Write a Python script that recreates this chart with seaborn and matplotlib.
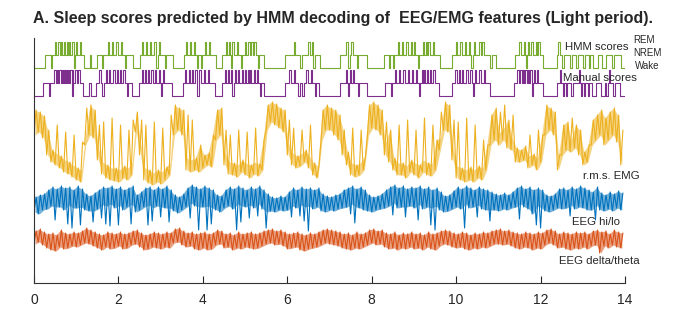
import numpy as np
import pandas as pd
import seaborn as sns
import matplotlib
matplotlib.use("Agg")
import matplotlib.pyplot as plt

# ---------------- data ----------------
# Hypnogram states: 0 = Wake, 1 = NREM, 2 = REM ; times in hours
hmm_base_t = [0.00, 0.26, 1.18, 1.32, 1.36, 1.50, 1.62, 1.64, 2.35, 2.50, 3.10, 3.13, 3.30, 3.55,
              3.95, 3.98, 4.30, 4.45, 4.90, 4.93, 5.45, 5.95, 6.30, 6.35, 6.78, 7.25, 7.65, 7.67,
              7.90, 8.30, 8.40, 8.43, 9.62, 9.90, 10.80, 10.85, 10.95, 11.40, 12.05, 12.40, 12.50,
              12.55, 12.70, 12.75, 13.00, 13.05, 13.25, 13.35, 13.45, 13.55, 13.70, 13.75, 13.90]
hmm_base_s = [0, 1] * 26 + [0]
hmm_rem_t = [0.50, 0.58, 0.64, 0.71, 0.77, 0.83, 0.91, 1.00, 1.08, 1.75, 1.85, 1.95, 2.05,
             2.55, 2.65, 2.75, 2.85, 2.96, 3.60, 3.70, 3.78, 4.05, 4.15, 4.55, 4.62, 4.70, 4.80,
             5.00, 5.08, 5.15, 5.22, 6.15, 6.50, 6.58, 7.40, 7.52, 8.62, 8.72, 8.82, 8.92, 9.00,
             9.22, 9.28, 9.34, 9.45, 10.00, 10.10, 10.20, 10.30, 10.42, 10.55, 10.62, 11.50,
             11.60, 11.70, 11.78, 11.88, 11.95, 12.42]
hmm_wake_dips = [0.40, 0.95, 2.15, 2.90, 3.85, 4.66, 5.30, 6.62, 7.45, 8.50, 9.10, 10.36,
                 11.65, 12.85, 13.15]

man_base_t = [0.00, 0.22, 1.15, 1.30, 1.34, 1.48, 2.32, 2.48, 3.28, 3.52, 4.28, 4.45, 5.45, 5.95,
              6.25, 6.30, 6.75, 7.25, 7.68, 7.71, 7.88, 8.32, 9.60, 9.90, 10.80, 11.38, 12.05,
              12.38, 12.52, 12.56, 12.72, 12.76, 13.02, 13.06, 13.22, 13.32, 13.42, 13.52, 13.72,
              13.76, 13.88]
man_base_s = [0, 1] * 20 + [0]
man_rem_t = [0.48, 0.55, 0.60, 0.66, 0.70, 0.76, 0.80, 0.86, 0.92, 0.98, 1.05, 1.55, 1.70, 1.78,
             1.88, 1.96, 2.04, 2.12, 2.55, 2.62, 2.70, 2.78, 2.86, 2.95, 3.05, 3.58, 3.66, 3.74,
             3.82, 3.92, 4.02, 4.12, 4.52, 4.60, 4.66, 4.75, 4.83, 4.92, 5.00, 5.06, 5.12, 5.20,
             5.28, 6.05, 6.15, 6.45, 6.55, 7.38, 7.48, 7.56, 8.55, 8.65, 8.75, 8.85, 8.95, 9.05,
             9.18, 9.24, 9.30, 9.38, 9.46, 9.98, 10.06, 10.14, 10.24, 10.34, 10.45, 10.55, 10.65,
             11.45, 11.52, 11.58, 11.64, 11.70, 11.76, 11.84, 11.92, 12.45, 12.90, 13.62]
man_wake_dips = [0.35, 0.90, 1.62, 2.20, 3.00, 3.87, 4.70, 5.35, 6.36, 6.65, 7.43, 8.45, 9.12,
                 10.40, 11.80, 12.60, 12.96, 13.12, 13.56]
bout_dur = 0.03  # h

# Continuous features: per 0.1 h bin, (min, max) in arbitrary units
emg = [(5.5, 8.0), (5.8, 7.8), (5.2, 7.4), (3.5, 6.0), (2.8, 4.0), (2.5, 6.5), (2.2, 3.4), (1.8, 5.8), (1.6, 2.8), (1.3, 5.5),
       (1.0, 2.2), (0.8, 4.8), (4.5, 8.2), (5.5, 8.5), (5.2, 8.0), (3.0, 6.5), (1.6, 6.8), (1.2, 2.5), (1.0, 7.2), (0.9, 2.2),
       (0.8, 6.5), (1.2, 2.4), (1.0, 6.0), (1.5, 7.0), (5.8, 7.8), (3.5, 7.0), (1.0, 6.5), (0.7, 2.0), (0.5, 6.8), (0.8, 2.0),
       (0.6, 6.2), (1.0, 2.3), (1.5, 7.5), (5.5, 8.5), (6.0, 8.2), (5.5, 8.0), (2.0, 7.5), (1.8, 7.0), (2.0, 3.2), (1.8, 4.5),
       (2.2, 3.5), (2.5, 3.7), (2.3, 5.5), (5.0, 8.0), (5.5, 8.2), (2.5, 6.0), (1.6, 5.5), (1.5, 2.7), (1.3, 6.0), (1.8, 3.0),
       (1.5, 5.8), (1.2, 2.5), (1.6, 6.2), (1.4, 2.6), (2.0, 5.0), (6.0, 8.5), (6.8, 8.8), (6.5, 8.6), (6.2, 8.2), (5.8, 8.0),
       (3.5, 7.0), (2.5, 6.2), (2.2, 3.4), (2.4, 6.0), (2.8, 4.0), (2.2, 6.5), (1.5, 2.7), (1.2, 2.4), (5.0, 8.0), (6.0, 8.5),
       (6.0, 8.2), (5.5, 8.0), (5.0, 7.5), (3.5, 6.0), (2.5, 3.8), (1.5, 6.2), (1.3, 2.5), (1.5, 6.0), (2.0, 3.3), (5.5, 8.5),
       (6.2, 8.8), (6.0, 8.5), (5.5, 8.0), (3.5, 6.8), (2.8, 6.0), (2.0, 3.2), (1.5, 6.5), (1.5, 2.7), (1.2, 7.0), (1.8, 3.0),
       (1.5, 6.0), (1.2, 2.5), (1.8, 7.2), (1.5, 2.7), (1.4, 6.5), (2.0, 5.0), (4.0, 7.8), (6.0, 8.8), (5.8, 8.5), (3.0, 7.0),
       (1.2, 6.8), (1.0, 2.2), (0.8, 7.2), (1.0, 2.3), (0.8, 6.5), (1.2, 2.4), (1.0, 5.0), (2.0, 4.5), (4.5, 7.5), (5.0, 8.2),
       (4.5, 7.8), (5.0, 8.5), (4.2, 7.0), (4.0, 7.5), (2.8, 4.2), (2.8, 4.0), (3.0, 4.4), (2.2, 5.5), (2.5, 3.6), (2.0, 6.0),
       (2.8, 5.5), (5.5, 8.5), (6.0, 8.2), (5.5, 7.8), (2.0, 3.5), (3.5, 6.5), (4.0, 6.8), (3.8, 7.2), (4.2, 6.5), (3.5, 6.0),
       (2.5, 3.8), (2.8, 4.5), (4.5, 7.0), (5.0, 7.5), (5.5, 8.0), (4.5, 7.2), (5.0, 7.8), (5.5, 8.2), (4.8, 7.5), (2.5, 6.0)]
emg_lo = [p[0] for p in emg]
emg_hi = [p[1] for p in emg]

hilo_lo = [2.8, 2.6, 3.0, 3.1, 3.4, 2.0, 3.3, 3.0, 1.6, 1.2,
           3.2, 1.5, 3.0, 2.9, 1.8, 3.1, 2.2, 1.6, 1.4, 3.2,
           1.5, 3.0, 3.3, 1.6, 2.8, 3.0, 3.3, 1.5, 1.9, 3.4,
           2.3, 3.2, 1.8, 2.9, 2.7, 3.0, 3.3, 2.2, 3.4, 1.0,
           3.3, 1.0, 1.6, 3.0, 2.8, 3.2, 3.4, 3.1, 1.0, 1.8,
           3.3, 2.2, 3.2, 2.4, 3.1, 1.2, 2.9, 2.8, 3.0, 2.9,
           3.0, 2.3, 3.2, 2.4, 1.9, 0.9, 3.1, 3.3, 2.9, 2.8,
           3.0, 2.9, 3.1, 3.2, 3.3, 2.6, 1.7, 3.2, 3.0, 2.9,
           2.8, 3.0, 3.1, 3.2, 3.4, 2.5, 3.2, 3.3, 2.3, 3.4,
           3.2, 2.0, 3.1, 3.3, 1.5, 1.0, 3.0, 2.8, 2.9, 3.1,
           3.3, 3.1, 1.2, 3.2, 3.3, 2.3, 3.1, 3.0, 1.9, 3.0,
           2.9, 3.1, 3.0, 3.2, 3.3, 2.1, 3.3, 3.1, 2.6, 1.5,
           1.2, 2.9, 2.8, 3.0, 3.2, 3.1, 3.2, 2.4, 3.1, 3.3,
           3.2, 3.0, 3.0, 2.0, 3.0, 2.9, 3.1, 2.9, 3.2, 3.0]
hilo_hi = [4.3, 4.5, 4.6, 5.0, 5.3, 5.1, 5.4, 5.2, 5.3, 5.0,
           5.4, 5.1, 4.6, 4.4, 4.7, 5.0, 5.3, 5.2, 5.4, 5.1,
           5.3, 5.0, 5.2, 5.4, 4.5, 4.8, 5.2, 5.3, 5.0, 5.3,
           5.1, 5.4, 5.0, 4.5, 4.3, 4.6, 5.2, 5.5, 5.3, 5.1,
           5.4, 5.2, 5.0, 4.5, 4.4, 5.0, 5.3, 5.1, 5.4, 5.2,
           5.0, 5.3, 5.1, 5.4, 5.0, 4.6, 4.3, 4.2, 4.4, 4.3,
           4.8, 5.2, 5.0, 5.3, 5.1, 5.2, 5.0, 5.2, 4.6, 4.4,
           4.3, 4.5, 4.6, 5.0, 5.2, 5.4, 5.1, 5.3, 5.0, 4.5,
           4.3, 4.4, 4.6, 5.0, 5.3, 5.5, 5.2, 5.4, 5.1, 5.3,
           5.2, 5.4, 5.1, 5.3, 5.0, 5.2, 4.8, 4.4, 4.5, 4.9,
           5.3, 5.1, 5.4, 5.2, 5.0, 5.3, 5.1, 5.0, 4.8, 4.6,
           4.5, 4.7, 4.5, 4.8, 5.2, 5.4, 5.1, 5.3, 5.0, 5.2,
           5.0, 4.5, 4.4, 4.6, 5.1, 5.2, 5.0, 5.3, 5.1, 5.4,
           5.2, 5.0, 4.8, 5.3, 4.7, 4.5, 4.8, 4.6, 4.9, 4.7]

dt_lo = [1.6, 1.8, 1.5, 1.2, 1.0, 0.9, 1.3, 1.1, 1.2, 1.4,
         1.3, 1.5, 1.7, 1.6, 1.4, 1.2, 1.0, 1.3, 1.1, 1.2,
         1.4, 1.1, 1.2, 1.5, 1.6, 1.3, 1.0, 1.1, 1.3, 1.2,
         1.1, 1.3, 1.2, 1.7, 1.8, 1.5, 1.3, 1.4, 1.1, 1.0,
         1.2, 1.0, 1.1, 1.5, 1.6, 1.2, 1.3, 1.0, 1.2, 1.1,
         1.3, 1.2, 1.1, 1.2, 1.4, 1.6, 1.7, 1.5, 1.6, 1.4,
         1.1, 1.2, 1.3, 1.0, 0.9, 1.1, 1.2, 1.3, 1.5, 1.7,
         1.6, 1.5, 1.4, 1.2, 1.1, 1.0, 1.2, 1.1, 1.3, 1.5,
         1.7, 1.5, 1.6, 1.3, 1.1, 1.2, 1.0, 1.2, 1.1, 1.3,
         1.1, 1.2, 1.0, 1.3, 1.1, 1.0, 1.4, 1.6, 1.5, 1.3,
         1.2, 1.3, 1.1, 1.0, 1.2, 1.1, 1.3, 1.2, 1.4, 1.6,
         1.6, 1.5, 1.6, 1.4, 1.2, 1.1, 1.3, 1.2, 1.0, 1.2,
         1.1, 1.5, 1.7, 1.5, 1.2, 1.3, 1.1, 1.0, 1.2, 1.1,
         1.3, 1.1, 1.4, 1.5, 0.7, 1.4, 1.2, 1.5, 1.3, 1.2]
dt_hi = [2.9, 3.1, 2.8, 2.6, 2.7, 2.5, 3.0, 2.7, 2.6, 2.8,
         2.7, 2.9, 3.2, 3.0, 2.8, 2.6, 2.5, 2.8, 2.7, 2.6,
         2.8, 2.6, 2.7, 2.9, 3.0, 2.7, 2.5, 2.6, 2.8, 2.7,
         2.6, 2.8, 2.7, 3.1, 3.2, 2.9, 2.7, 2.8, 2.6, 2.7,
         2.8, 2.6, 2.7, 3.0, 2.9, 2.6, 2.7, 2.5, 2.8, 2.6,
         2.7, 2.8, 2.6, 2.7, 2.9, 3.0, 3.1, 2.9, 3.0, 2.8,
         2.6, 2.7, 2.8, 2.6, 2.5, 2.7, 2.6, 2.8, 3.0, 3.1,
         3.0, 2.9, 2.8, 2.6, 2.7, 2.5, 2.8, 2.6, 2.7, 3.0,
         3.1, 2.9, 3.0, 2.7, 2.6, 2.8, 2.5, 2.7, 2.6, 2.8,
         2.6, 2.7, 2.5, 2.8, 2.6, 2.7, 2.9, 3.0, 2.9, 2.7,
         2.6, 2.8, 2.7, 2.5, 2.7, 2.6, 2.8, 2.7, 2.9, 3.0,
         3.1, 2.9, 3.0, 2.8, 2.7, 2.6, 2.8, 2.7, 2.6, 2.8,
         2.7, 3.0, 3.1, 2.9, 2.6, 2.8, 2.7, 2.6, 2.8, 2.7,
         2.8, 2.6, 2.9, 3.0, 2.8, 2.9, 2.6, 3.0, 2.8, 2.7]

xticks = [0, 2, 4, 6, 8, 10, 12, 14]
title = "A. Sleep scores predicted by HMM decoding of  EEG/EMG features (Light period)."

# ---------------- styling constants ----------------
W, H = 694, 331
C_GREEN, C_PURPLE = "#77AC30", "#7E2F8E"
C_YELLOW, C_BLUE, C_ORANGE = "#EDB120", "#0072BD", "#D95319"
TXT = "#262626"
BIN = 0.1

sns.set_theme(style="ticks")
plt.rcParams["font.family"] = ["Liberation Sans", "DejaVu Sans"]

fig = plt.figure(figsize=(W / 100, H / 100), dpi=100)
ax_l, ax_r, ax_b, ax_t = 34, 625, 283, 38
ax = fig.add_axes([ax_l / W, 1 - ax_b / H, (ax_r - ax_l) / W, (ax_b - ax_t) / H])


def build_hyp(base_t, base_s, rem_t, dips, dur):
    bt = np.asarray(base_t)
    ev = list(zip(base_t, base_s))
    for times, st in ((rem_t, 2), (dips, 0)):
        for r in times:
            idx = np.searchsorted(bt, r, side="right") - 1
            ev.append((r, st))
            ev.append((r + dur, base_s[idx]))
    ev.sort()
    t = [e[0] for e in ev] + [14.0]
    s = [e[1] for e in ev] + [ev[-1][1]]
    return np.array(t), np.array(s, dtype=float)


def interleave(lo, hi):
    tb = np.arange(len(lo)) * BIN
    x = np.column_stack([tb, tb + BIN / 2]).ravel()
    y = np.column_stack([lo, hi]).ravel()
    return x, y


def trace(lo, hi, off, color, core_lo, core_hi):
    lo, hi = np.asarray(lo), np.asarray(hi)
    x, y = interleave(lo, hi)
    tb = np.arange(len(lo)) * BIN + BIN / 4
    ax.fill_between(tb, off + 10 * core_lo, off + 10 * core_hi, color=color, alpha=0.55, lw=0)
    sns.lineplot(x=x, y=off + 10 * y, ax=ax, color=color, lw=0.8, estimator=None, sort=False)


# hypnograms
t, s = build_hyp(hmm_base_t, hmm_base_s, hmm_rem_t, hmm_wake_dips, bout_dur)
sns.lineplot(x=t, y=215 + 13 * s, ax=ax, color=C_GREEN, lw=0.8, drawstyle="steps-post",
             estimator=None, sort=False)
t, s = build_hyp(man_base_t, man_base_s, man_rem_t, man_wake_dips, bout_dur)
sns.lineplot(x=t, y=187 + 13 * s, ax=ax, color=C_PURPLE, lw=0.8, drawstyle="steps-post",
             estimator=None, sort=False)

# continuous features (fill = core band without the isolated spikes)
lo, hi = np.array(emg_lo), np.array(emg_hi)
trace(lo, hi, 93, C_YELLOW, lo, np.where(hi - lo > 3.2, lo + 1.2, hi))
lo, hi = np.array(hilo_lo), np.array(hilo_hi)
trace(lo, hi, 43, C_BLUE, np.where(hi - lo > 2.6, hi - 1.8, lo), hi)
lo, hi = np.array(dt_lo), np.array(dt_hi)
trace(lo, hi, 23, C_ORANGE, lo, hi)

ax.set_xlim(0, 14)
ax.set_ylim(0, ax_b - ax_t)
ax.set_xticks(xticks)
ax.set_xticklabels([str(v) for v in xticks], fontsize=10)
ax.set_yticks([])
ax.tick_params(axis="x", direction="in", length=5, width=0.8, pad=7, colors=TXT)
for side in ["top", "right"]:
    ax.spines[side].set_visible(False)
for side in ["left", "bottom"]:
    ax.spines[side].set_color("#333333")
    ax.spines[side].set_linewidth(0.8)
ax.set_xlabel("")
ax.set_ylabel("")
ax.patch.set_alpha(0)


def ftext(x, y, txt, **kw):
    fig.text(x / W, 1 - y / H, txt, va="center", color=TXT, **kw)


ftext(33, 18, title, fontsize=11.5, fontweight="bold", ha="left")
ftext(633, 40, "REM", fontsize=7, ha="left")
ftext(633, 53, "NREM", fontsize=7, ha="left")
ftext(635, 66, "Wake", fontsize=7, ha="left")
ftext(565, 47, "HMM scores", fontsize=8.2, ha="left")
ftext(563, 78, "Manual scores", fontsize=8.2, ha="left")
ftext(640, 176, "r.m.s. EMG", fontsize=8.2, ha="right")
ftext(620, 222, "EEG hi/lo", fontsize=8.2, ha="right")
ftext(640, 261, "EEG delta/theta", fontsize=8.2, ha="right")

fig.savefig("out.png", dpi=100)
